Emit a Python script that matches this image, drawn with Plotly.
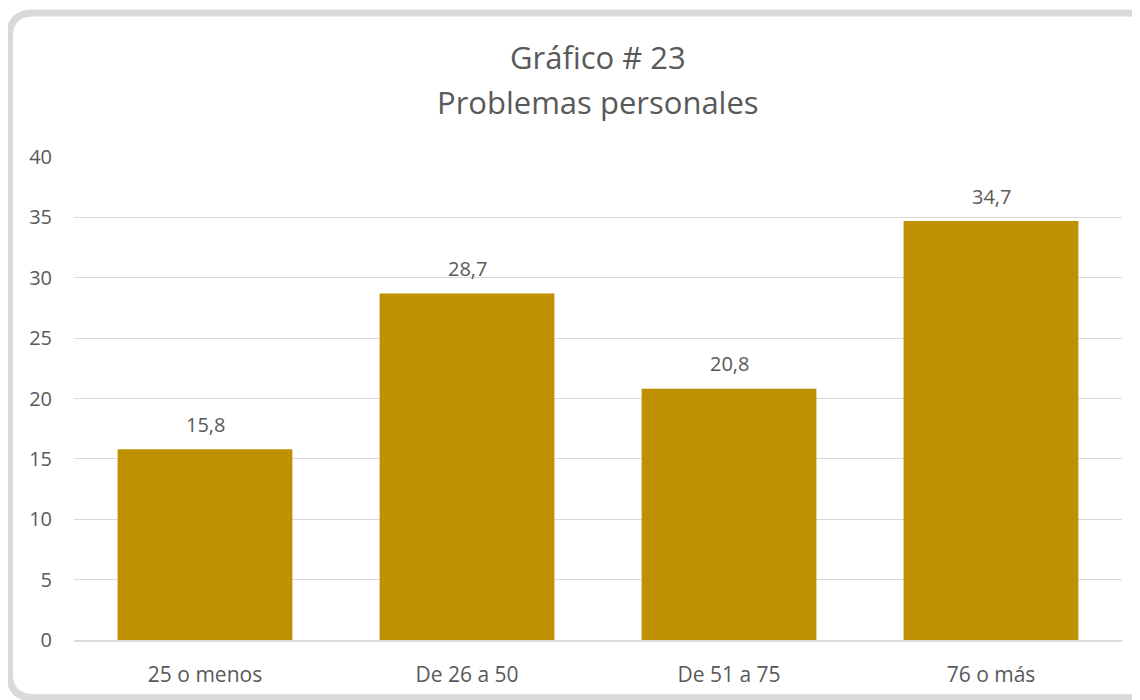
import plotly.graph_objects as go

categories = ["25 o menos", "De 26 a 50", "De 51 a 75", "76 o más"]
values = [15.8, 28.7, 20.8, 34.7]
y_ticks = [0, 5, 10, 15, 20, 25, 30, 35, 40]
title_line1 = "Gráfico # 23"
title_line2 = "Problemas personales"

OFF = 8  # default page body margin
W, H = 1140 - OFF, 700 - OFF
# plot area in page pixels: x 74..1122, y 157..642
L, R = 74 - OFF, 1140 - 1122
T, B = 157 - OFF, 700 - 642
pw, ph = W - L - R, H - T - B

def px(x):  # page pixel -> paper
    return (x - OFF - L) / pw

def py(y):
    return (H - B - (y - OFF)) / ph

FONT = "Open Sans"
TXT = "#595959"

fig = go.Figure()
fig.add_trace(go.Bar(
    x=categories, y=values,
    marker=dict(color="#BF9000", line=dict(width=0)),
    hoverinfo="skip",
))

for c, v in zip(categories, values):
    fig.add_annotation(
        x=c, y=v, xref="x", yref="y",
        text=f"{v:.1f}".replace(".", ","),
        showarrow=False, yanchor="middle", yshift=25,
        font=dict(family=FONT, size=20, color=TXT),
    )

fig.add_annotation(x=0.5, y=1, xref="paper", yref="paper", yanchor="middle",
                   yshift=100, text=title_line1, showarrow=False,
                   font=dict(family=FONT, size=31, color=TXT))
fig.add_annotation(x=0.5, y=1, xref="paper", yref="paper", yanchor="middle",
                   yshift=55, text=title_line2, showarrow=False,
                   font=dict(family=FONT, size=31, color=TXT))

# rounded border (page pixel coordinates)
x0, y0, x1, y1, r = 9.5, 12.5, 1152, 700, 24
path = (f"M {px(x0 + r)},{py(y0)} L {px(x1 - r)},{py(y0)} "
        f"Q {px(x1)},{py(y0)} {px(x1)},{py(y0 + r)} "
        f"L {px(x1)},{py(y1 - r)} Q {px(x1)},{py(y1)} {px(x1 - r)},{py(y1)} "
        f"L {px(x0 + r)},{py(y1)} Q {px(x0)},{py(y1)} {px(x0)},{py(y1 - r)} "
        f"L {px(x0)},{py(y0 + r)} Q {px(x0)},{py(y0)} {px(x0 + r)},{py(y0)} Z")
fig.add_shape(type="path", path=path, xref="paper", yref="paper",
              line=dict(color="#D9D9D9", width=7), layer="above")

fig.update_layout(
    width=W, height=H,
    margin=dict(l=L, r=R, t=T, b=B),
    paper_bgcolor="white", plot_bgcolor="white",
    bargap=0.333,
    showlegend=False,
    font=dict(family=FONT, size=20, color=TXT),
)
fig.update_xaxes(
    showgrid=False, showline=True, linecolor="#D9D9D9", linewidth=1.5,
    ticks="", tickfont=dict(family=FONT, size=21, color=TXT),
    ticklabelstandoff=15,
)
fig.update_yaxes(
    range=[0, 40], tickmode="array", tickvals=y_ticks,
    showgrid=True, gridcolor="#D9D9D9", gridwidth=1,
    zeroline=False, showline=False, ticks="",
    tickfont=dict(family=FONT, size=20, color=TXT),
    ticklabelstandoff=21,
)

fig.write_html("out.html")
